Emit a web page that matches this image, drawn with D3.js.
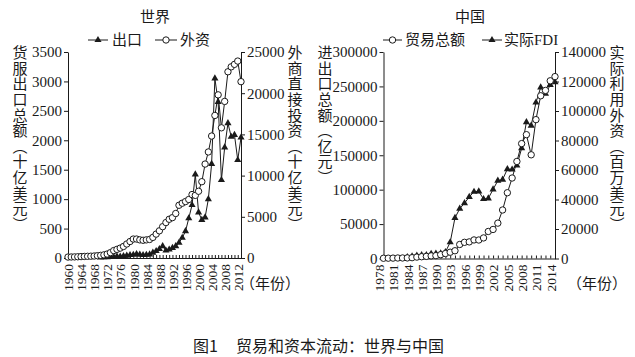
<!DOCTYPE html>
<html><head><meta charset="utf-8">
<script src="https://cdn.jsdelivr.net/npm/d3@7"></script>
<style>
body{margin:0;background:#fff;}
svg{display:block;}
text{font-family:"Liberation Serif","Noto Sans CJK SC",serif;fill:#1a1a1a;}
.cjk{font-family:"Noto Sans CJK SC","Liberation Serif",sans-serif;}
.vt{font-family:"Noto Sans CJK SC",sans-serif;writing-mode:vertical-rl;letter-spacing:0.6px;}
</style></head><body>
<svg id="c" width="635" height="357"></svg>
<script>
// ---------- data ----------
const worldYears = [1960,1961,1962,1963,1964,1965,1966,1967,1968,1969,1970,1971,1972,1973,1974,1975,1976,1977,1978,1979,1980,1981,1982,1983,1984,1985,1986,1987,1988,1989,1990,1991,1992,1993,1994,1995,1996,1997,1998,1999,2000,2001,2002,2003,2004,2005,2006,2007,2008,2009,2010,2011,2012,2013];
// 出口 (triangles, left axis)
const worldExport = [null,null,null,null,null,null,null,null,null,null,
  10,12,15,22,18,27,25,33,40,50,
  55,68,58,50,55,60,90,119,153,200,
  127,144,173,200,258,343,455,675,900,1420,
  776,646,690,1000,1600,3050,2650,1325,1880,2290,
  2060,2090,1665,2047];
// 外资 (circles, right axis)
const worldFDI = [115,125,135,150,170,190,205,220,240,280,
  320,380,480,650,900,1050,1200,1400,1700,2000,
  2300,2300,2200,2150,2200,2250,2500,2900,3300,3800,
  4300,4700,4900,5400,6400,6650,6850,7100,7700,7600,
  8100,9260,11400,12870,14800,17300,19800,15800,19000,22600,
  23200,23500,23900,21400];
const worldLeftTicks = [0,500,1000,1500,2000,2500,3000,3500];
const worldRightTicks = [0,5000,10000,15000,20000,25000];
const worldXLabels = [1960,1964,1968,1972,1976,1980,1984,1988,1992,1996,2000,2004,2008,2012];

const chinaYears = [1978,1979,1980,1981,1982,1983,1984,1985,1986,1987,1988,1989,1990,1991,1992,1993,1994,1995,1996,1997,1998,1999,2000,2001,2002,2003,2004,2005,2006,2007,2008,2009,2010,2011,2012,2013,2014];
// 贸易总额 (circles, left axis, 亿元)
const chinaTrade = [355,455,570,735,771,860,1201,2067,2580,3084,3822,4156,5560,7226,9120,11271,20382,23500,24134,26967,26850,29896,39273,42184,51378,70484,95539,116922,140975,166924,179922,150648,201722,236402,244160,258169,264242];
// 实际FDI (triangles, right axis, 百万美元)
const chinaFDI = [null,null,null,null,null,916,1419,1956,2244,2314,3194,3392,3487,4366,11008,27515,33767,37521,41726,45257,45463,40319,40715,46878,52743,53505,60630,60325,63021,74768,92395,90033,105735,116011,111716,117586,119562];
const chinaLeftTicks = [0,50000,100000,150000,200000,250000,300000];
const chinaRightTicks = [0,20000,40000,60000,80000,100000,120000,140000];
const chinaXLabels = [1978,1981,1984,1987,1990,1993,1996,1999,2002,2005,2008,2011,2014];

// ---------- drawing ----------
const svg = d3.select("#c");
const INK = "#1a1a1a";
const fmt = d3.format("d");

function vtext(x, yTop, label){
  svg.append("text").attr("class","vt").attr("x",x).attr("y",yTop)
    .attr("font-size",15).text(label);
}

function panel(cfg){
  const x = d3.scaleLinear().domain([cfg.years[0], cfg.years[cfg.years.length-1]]).range(cfg.xr);
  const yL = d3.scaleLinear().domain([0, cfg.leftMax]).range(cfg.yr);
  const yR = d3.scaleLinear().domain([0, cfg.rightMax]).range(cfg.yr);
  const g = svg.append("g");

  const aL = g.append("g").attr("transform",`translate(${cfg.xr[0]},0)`)
    .call(d3.axisLeft(yL).tickValues(cfg.leftTicks).tickFormat(fmt).tickSize(4).tickSizeOuter(0).tickPadding(2));
  const aR = g.append("g").attr("transform",`translate(${cfg.xr[1]},0)`)
    .call(d3.axisRight(yR).tickValues(cfg.rightTicks).tickFormat(fmt).tickSize(4).tickSizeOuter(0).tickPadding(2));
  const labs = new Set(cfg.xLabels);
  const aB = g.append("g").attr("transform",`translate(0,${cfg.yr[0]})`)
    .call(d3.axisBottom(x).tickValues(cfg.years).tickSize(-3).tickSizeOuter(0)
      .tickFormat(d=> labs.has(d) ? String(d) : ""));
  aB.selectAll("text").attr("transform","rotate(-90)").attr("text-anchor","end")
    .attr("x",-6).attr("y",0).attr("dy",cfg.labelDy);
  [aL,aR,aB].forEach(a=>{
    a.selectAll("path,line").attr("stroke",INK).attr("stroke-width",1);
    a.selectAll("text").attr("font-size",15).attr("fill",INK)
      .attr("font-family","Liberation Serif");
  });
  aB.selectAll("text").attr("font-size",13.5);

  cfg.series.forEach(s=>{
    const ys = s.axis === "L" ? yL : yR;
    const pts = cfg.years.map((yr,i)=>({yr, v:s.values[i]})).filter(p=>p.v!=null);
    g.append("path").datum(pts)
      .attr("fill","none").attr("stroke",INK).attr("stroke-width",1)
      .attr("d", d3.line().x(p=>x(p.yr)).y(p=>ys(p.v)));
    const m = g.append("g");
    if(s.marker === "tri"){
      m.selectAll("path").data(pts).join("path")
        .attr("d", d3.symbol(d3.symbolTriangle, 22))
        .attr("transform",p=>`translate(${x(p.yr)},${ys(p.v)})`)
        .attr("fill",INK);
    } else {
      m.selectAll("circle").data(pts).join("circle")
        .attr("cx",p=>x(p.yr)).attr("cy",p=>ys(p.v)).attr("r",3.2)
        .attr("fill","#fff").attr("stroke",INK).attr("stroke-width",1);
    }
  });
}

function legendItem(x1, x2, y, marker, label, tx){
  svg.append("line").attr("x1",x1).attr("x2",x2).attr("y1",y).attr("y2",y)
    .attr("stroke",INK).attr("stroke-width",1);
  const cx = (x1+x2)/2;
  if(marker==="tri"){
    svg.append("path").attr("d",d3.symbol(d3.symbolTriangle,22))
      .attr("transform",`translate(${cx},${y})`).attr("fill",INK);
  } else {
    svg.append("circle").attr("cx",cx).attr("cy",y).attr("r",3.2)
      .attr("fill","#fff").attr("stroke",INK);
  }
  svg.append("text").attr("x",tx).attr("y",y).attr("dominant-baseline","central")
    .attr("font-size",15).text(label);
}

panel({
  years: worldYears, xr:[68,241], yr:[258,52],
  leftMax:3500, rightMax:25000,
  leftTicks: worldLeftTicks, rightTicks: worldRightTicks, xLabels: worldXLabels,
  labelDy:"0.35em",
  series:[
    {values: worldExport, axis:"L", marker:"tri"},
    {values: worldFDI, axis:"R", marker:"circle"}
  ]
});
panel({
  years: chinaYears, xr:[383.5,555], yr:[258.5,52],
  leftMax:300000, rightMax:140000,
  leftTicks: chinaLeftTicks, rightTicks: chinaRightTicks, xLabels: chinaXLabels,
  labelDy:"0em",
  series:[
    {values: chinaFDI, axis:"R", marker:"tri"},
    {values: chinaTrade, axis:"L", marker:"circle"}
  ]
});

svg.append("text").attr("class","cjk").attr("x",155).attr("y",15).attr("text-anchor","middle")
  .attr("dominant-baseline","central").attr("font-size",15).text("世界");
svg.append("text").attr("class","cjk").attr("x",470).attr("y",15).attr("text-anchor","middle")
  .attr("dominant-baseline","central").attr("font-size",15).text("中国");

legendItem(88,108,40,"tri","出口",112);
legendItem(155,177,40,"circle","外资",180);
legendItem(383,402,40,"circle","贸易总额",405);
legendItem(482,502,40,"tri","实际FDI",504);

vtext(20,45,"货服出口总额（十亿美元）");
vtext(295,45,"外商直接投资（十亿美元）");
vtext(325,45,"进出口总额（亿元）");
vtext(617,45,"实际利用外资（百万美元）");

svg.append("text").attr("class","cjk").attr("x",240).attr("y",282).attr("dominant-baseline","central")
  .attr("font-size",15).text("（年份）");
svg.append("text").attr("class","cjk").attr("x",567).attr("y",282).attr("dominant-baseline","central")
  .attr("font-size",15).text("（年份）");

svg.append("text").attr("class","cjk").attr("x",193).attr("y",345).attr("dominant-baseline","central")
  .attr("font-size",16).text("图1");
svg.append("text").attr("class","cjk").attr("x",236).attr("y",345).attr("dominant-baseline","central")
  .attr("font-size",16).text("贸易和资本流动：世界与中国");
</script>
</body></html>
